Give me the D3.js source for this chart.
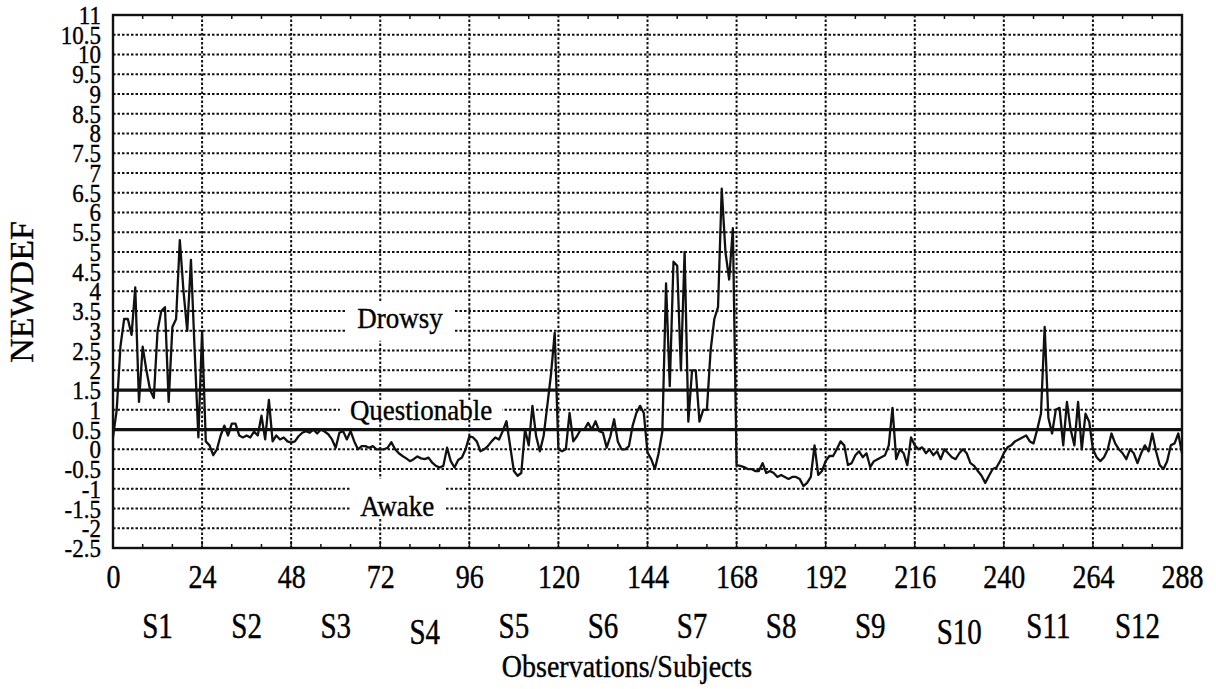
<!DOCTYPE html>
<html>
<head>
<meta charset="utf-8">
<script src="https://cdn.jsdelivr.net/npm/d3@7"></script>
<style>
  body { margin: 0; background: #fff; }
  text { font-family: "Liberation Serif", "Times New Roman", Times, serif; fill: #000; stroke: #000; stroke-width: 0.35px; }
</style>
</head>
<body>
<svg id="chart" width="1216" height="689"></svg>
<script>
// NEWDEF score per observation (24 observations per subject, 12 subjects)
const newdef = [
  0.3, 1.0, 2.6, 3.3, 3.3, 2.9, 4.1, 1.2, 2.6, 2.0, 1.5, 1.3, 3.0, 3.5, 3.6, 1.2, 3.1, 3.3, 5.3, 4.0, 3.0, 4.8, 2.5, 0.3,
  3.0, 0.2, 0.1, -0.15, 0.0, 0.35, 0.6, 0.35, 0.65, 0.65, 0.35, 0.3, 0.35, 0.3, 0.45, 0.35, 0.85, 0.25, 1.25, 0.2, 0.35, 0.25, 0.3, 0.2,
  0.17, 0.2, 0.33, 0.42, 0.46, 0.42, 0.5, 0.4, 0.5, 0.45, 0.38, 0.25, 0.04, 0.42, 0.46, 0.25, 0.46, 0.2, 0.0, 0.08, 0.08, 0.04, 0.08, 0.0,
  0.0, 0.0, 0.04, 0.18, 0.0, -0.1, -0.17, -0.23, -0.3, -0.25, -0.18, -0.23, -0.25, -0.21, -0.34, -0.42, -0.46, -0.42, 0.04, -0.3, -0.46, -0.27, -0.21, 0.0,
  0.33, 0.3, 0.2, -0.05, 0.0, 0.08, 0.2, 0.3, 0.25, 0.46, 0.71, 0.08, -0.55, -0.67, -0.6, 0.5, 0.1, 1.1, 0.33, -0.05, 0.33, 1.1, 1.9, 2.95,
  0.0, -0.05, 0.0, 0.92, 0.2, 0.33, 0.5, 0.5, 0.67, 0.5, 0.71, 0.46, 0.42, 0.04, 0.33, 0.76, 0.2, 0.0, 0.0, 0.08, 0.6, 0.92, 1.1, 0.92,
  -0.08, -0.25, -0.5, -0.1, 0.45, 4.2, 1.6, 4.75, 4.65, 2.0, 5.0, 0.7, 2.0, 2.0, 0.7, 1.0, 1.0, 2.5, 3.3, 3.6, 6.6, 5.0, 4.3, 5.6,
  -0.4, -0.42, -0.45, -0.5, -0.5, -0.55, -0.55, -0.35, -0.6, -0.55, -0.6, -0.7, -0.65, -0.7, -0.75, -0.7, -0.7, -0.75, -0.93, -0.85, -0.7, 0.1, -0.65, -0.55,
  -0.3, -0.17, -0.17, 0.0, 0.2, 0.1, -0.4, -0.35, -0.15, -0.05, -0.2, -0.1, -0.45, -0.3, -0.25, -0.2, -0.15, 0.1, 1.05, -0.25, 0.0, -0.1, -0.4, 0.3,
  0.1, 0.0, 0.05, -0.1, 0.0, -0.15, -0.05, -0.25, 0.0, -0.1, -0.2, -0.25, -0.1, 0.0, -0.1, -0.35, -0.42, -0.55, -0.67, -0.85, -0.67, -0.5, -0.46, -0.3,
  -0.1, 0.05, 0.1, 0.2, 0.25, 0.3, 0.35, 0.2, 0.15, 0.5, 0.9, 3.1, 0.8, 0.4, 1.0, 1.05, 0.1, 1.2, 0.5, 0.1, 1.2, 0.0, 0.9, 0.7,
  0.0, -0.2, -0.3, -0.2, 0.0, 0.4, 0.15, 0.0, -0.1, -0.25, 0.0, -0.1, -0.35, -0.1, 0.1, -0.05, 0.4, -0.05, -0.4, -0.5, -0.3, 0.1, 0.15, 0.4,
  -0.1
];

const xTickValues = [0, 24, 48, 72, 96, 120, 144, 168, 192, 216, 240, 264, 288];
const yTickValues = [-2.5, -2, -1.5, -1, -0.5, 0, 0.5, 1, 1.5, 2, 2.5, 3, 3.5, 4, 4.5, 5, 5.5, 6, 6.5, 7, 7.5, 8, 8.5, 9, 9.5, 10, 10.5, 11];
const subjects = ["S1", "S2", "S3", "S4", "S5", "S6", "S7", "S8", "S9", "S10", "S11", "S12"];
const thresholds = [0.5, 1.5];
const zoneNames = ["Drowsy", "Questionable", "Awake"];

(function draw() {
  const svg = d3.select("#chart");
  const pLeft = 113, pRight = 1182, pTop = 15, pBottom = 548;

  const x = d3.scaleLinear().domain([0, 288]).range([pLeft, pRight]);
  const y = d3.scaleLinear().domain([-2.5, 11]).range([pBottom, pTop]);

  const ink = "#111";

  // dotted grid
  const grid = svg.append("g");
  grid.selectAll("line.h")
    .data(yTickValues.filter(v => v > -2.5 && v < 11 && !thresholds.includes(v)))
    .join("line")
    .attr("x1", pLeft).attr("x2", pRight)
    .attr("y1", d => y(d)).attr("y2", d => y(d))
    .attr("stroke", ink).attr("stroke-width", 2)
    .attr("stroke-dasharray", "2.5,2");
  grid.selectAll("line.v")
    .data(xTickValues.filter(v => v > 0 && v < 288))
    .join("line")
    .attr("x1", d => x(d)).attr("x2", d => x(d))
    .attr("y1", pTop).attr("y2", pBottom)
    .attr("stroke", ink).attr("stroke-width", 2)
    .attr("stroke-dasharray", "2.5,2");

  // zone labels on white boxes that interrupt the grid
  const zoneLayout = {
    Drowsy: { at: 77.3, v: 3.3, band: [2.75, 3.75] },
    Questionable: { at: 83, v: 0.96, band: [0.75, 1.25] },
    Awake: { at: 76.6, v: -1.45, band: [-1.75, -0.75] }
  };
  const zones = svg.append("g");
  zoneNames.forEach(name => {
    const L = zoneLayout[name];
    const g = zones.append("g");
    const rect = g.append("rect").attr("fill", "#fff");
    const t = g.append("text")
      .attr("transform", `translate(${x(L.at)},${y(L.v) + 9}) scale(1,1.12)`)
      .attr("text-anchor", "middle")
      .attr("font-size", 27)
      .text(name);
    const bb = t.node().getBBox();
    rect.attr("x", x(L.at) - bb.width / 2 - 10).attr("width", bb.width + 20)
      .attr("y", y(L.band[1])).attr("height", y(L.band[0]) - y(L.band[1]));
  });

  // state thresholds
  svg.append("g").selectAll("line")
    .data(thresholds)
    .join("line")
    .attr("x1", pLeft).attr("x2", pRight)
    .attr("y1", d => y(d)).attr("y2", d => y(d))
    .attr("stroke", ink).attr("stroke-width", 3.2);

  // NEWDEF trace
  const line = d3.line().x((d, i) => x(i)).y(d => y(d));
  svg.append("path")
    .datum(newdef)
    .attr("d", line)
    .attr("fill", "none")
    .attr("stroke", ink)
    .attr("stroke-width", 2.3)
    .attr("stroke-linejoin", "round");

  // frame with inward ticks
  svg.append("rect")
    .attr("x", pLeft).attr("y", pTop)
    .attr("width", pRight - pLeft).attr("height", pBottom - pTop)
    .attr("fill", "none").attr("stroke", ink).attr("stroke-width", 2.4);

  const minor = d3.range(0, 289, 8).filter(v => v % 24 !== 0);
  const tickG = svg.append("g").attr("stroke", ink).attr("stroke-width", 1.5);
  tickG.selectAll("line.bm").data(minor).join("line")
    .attr("x1", d => x(d)).attr("x2", d => x(d))
    .attr("y1", pBottom).attr("y2", pBottom - 4);
  tickG.selectAll("line.tm").data(minor).join("line")
    .attr("x1", d => x(d)).attr("x2", d => x(d))
    .attr("y1", pTop).attr("y2", pTop + 4);
  tickG.selectAll("line.bM").data(xTickValues).join("line")
    .attr("x1", d => x(d)).attr("x2", d => x(d))
    .attr("y1", pBottom).attr("y2", pBottom - 7);

  const serif = "Liberation Serif, Times New Roman, serif";

  // x axis labels
  const xAxis = d3.axisBottom(x).tickValues(xTickValues).tickSize(0).tickPadding(0);
  const gx = svg.append("g").attr("transform", `translate(0,${pBottom})`).call(xAxis);
  gx.select(".domain").remove();
  gx.selectAll("text")
    .attr("y", 0).attr("dy", 0)
    .attr("transform", "translate(0,40) scale(1,1.2)")
    .attr("font-size", 28)
    .attr("font-family", serif)
    .attr("fill", "#000");

  // y axis labels
  const yAxis = d3.axisLeft(y).tickValues(yTickValues).tickSize(0).tickPadding(0)
    .tickFormat(d => String(d));
  const gy = svg.append("g").attr("transform", `translate(${pLeft - 12},0)`).call(yAxis);
  gy.select(".domain").remove();
  gy.selectAll("text")
    .attr("x", 0).attr("dy", 0)
    .attr("transform", "translate(0,8.5) scale(1,1.12)")
    .attr("font-size", 23)
    .attr("font-family", serif)
    .attr("fill", "#000");

  // subject labels centred on each block of 24 observations
  const lowered = new Set(["S4", "S10"]);
  svg.append("g").selectAll("text")
    .data(subjects)
    .join("text")
    .attr("transform", (d, i) => `translate(${x(i * 24 + 12)},${lowered.has(d) ? 644 : 638}) scale(1,1.22)`)
    .attr("text-anchor", "middle")
    .attr("font-size", 29)
    .text(d => d);

  // axis titles
  svg.append("text")
    .attr("transform", "translate(627,677) scale(1,1.12)")
    .attr("text-anchor", "middle")
    .attr("font-size", 28)
    .text("Observations/Subjects");

  svg.append("text")
    .attr("transform", `translate(33,292) rotate(-90)`)
    .attr("text-anchor", "middle")
    .attr("font-size", 34)
    .text("NEWDEF");
})();
</script>
</body>
</html>
